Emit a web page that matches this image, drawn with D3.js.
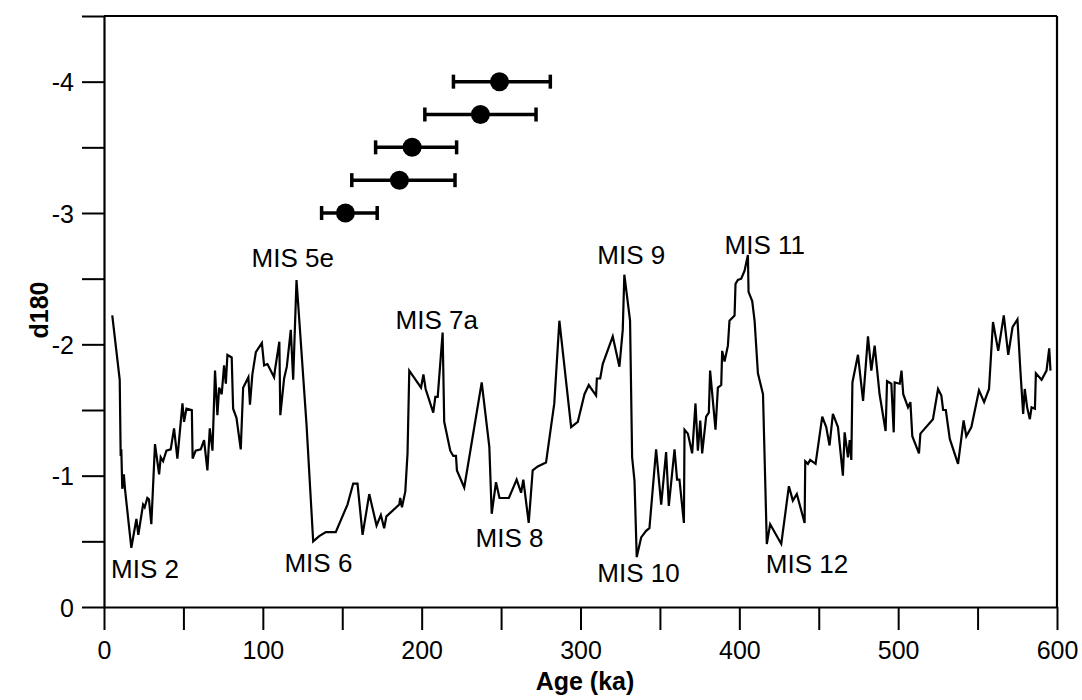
<!DOCTYPE html>
<html><head><meta charset="utf-8">
<script src="https://cdn.jsdelivr.net/npm/d3@7"></script>
<style>body{margin:0;background:#fff}svg{display:block}text{font-family:Arial,"Liberation Sans",sans-serif}</style>
</head><body><svg id="c" width="1082" height="700"></svg>
<script>
const ages = [5.2,9.9,10.5,10.9,11.5,12.5,13.2,17.2,20.4,21.6,24.6,25.6,27.3,28.3,29.8,32.1,34.7,35.7,37.2,39.3,42.0,44.1,46.2,49.4,50.4,51.9,55.3,55.8,57.7,60.9,63.0,65.1,66.6,68.3,69.9,71.4,72.5,74.1,75.6,76.7,77.7,80.4,81.3,83.4,86.1,87.6,90.9,91.9,93.4,95.6,99.4,100.8,102.9,107.1,107.7,110.4,111.0,113.4,115.1,117.6,119.1,121.2,127.5,131.7,135.5,139.7,145.9,153.3,156.9,159.6,162.8,167.0,171.6,174.3,176.4,177.8,185.9,186.5,187.6,189.7,191.1,192.2,199.6,201.1,202.5,207.3,208.6,210.1,213.2,214.2,218.0,219.9,221.6,222.2,226.8,237.8,242.6,244.1,246.8,249.0,254.9,259.8,262.6,264.0,267.4,269.9,273.1,278.3,281.4,283.5,286.7,294.1,298.3,302.5,305.2,309.8,310.3,312.4,314.0,320.3,324.5,326.6,327.6,331.2,332.5,334.0,335.4,338.2,341.3,343.4,347.6,350.8,353.9,355.6,359.2,360.8,362.3,365.1,365.5,367.6,370.3,372.4,373.9,375.4,376.6,379.1,380.8,381.6,385.0,386.5,388.6,389.2,390.7,392.8,393.8,397.0,397.6,399.1,401.2,403.3,405.4,405.8,408.1,409.6,411.7,414.9,417.3,419.4,426.4,431.2,433.7,436.2,441.1,441.5,443.2,444.6,448.0,452.2,454.7,456.8,458.9,462.1,465.2,466.3,468.4,469.5,470.5,471.2,474.7,477.9,481.0,483.1,485.2,488.3,492.1,493.0,495.7,497.2,497.8,501.0,502.1,503.2,506.2,507.7,508.9,513.1,514.0,521.9,525.1,527.2,528.3,530.0,532.5,537.7,541.2,542.9,546.1,550.9,554.1,557.2,559.7,563.0,566.5,569.3,572.0,575.1,577.0,578.7,579.7,581.2,582.9,584.0,586.1,586.7,590.3,593.4,595.1,595.9];
const d18O = [-2.22,-1.73,-1.15,-1.20,-0.90,-1.01,-0.90,-0.45,-0.67,-0.55,-0.78,-0.76,-0.83,-0.82,-0.63,-1.24,-1.01,-1.14,-1.11,-1.19,-1.20,-1.36,-1.13,-1.55,-1.41,-1.51,-1.50,-1.13,-1.19,-1.20,-1.27,-1.04,-1.36,-1.19,-1.80,-1.46,-1.67,-1.62,-1.84,-1.70,-1.92,-1.90,-1.51,-1.44,-1.20,-1.67,-1.75,-1.54,-1.77,-1.94,-2.01,-1.84,-1.85,-1.75,-1.81,-2.02,-1.46,-1.74,-1.83,-2.11,-1.73,-2.49,-1.39,-0.50,-0.54,-0.57,-0.57,-0.78,-0.94,-0.94,-0.55,-0.86,-0.62,-0.70,-0.60,-0.69,-0.78,-0.83,-0.76,-0.88,-1.17,-1.80,-1.67,-1.77,-1.66,-1.48,-1.60,-1.60,-2.09,-1.41,-1.19,-1.15,-1.15,-1.04,-0.91,-1.71,-1.22,-0.71,-0.95,-0.83,-0.83,-0.97,-0.87,-0.97,-0.64,-1.04,-1.07,-1.10,-1.37,-1.55,-2.18,-1.37,-1.41,-1.62,-1.69,-1.61,-1.74,-1.74,-1.85,-2.06,-1.83,-2.11,-2.53,-2.18,-1.14,-0.96,-0.38,-0.53,-0.58,-0.60,-1.20,-0.78,-1.18,-0.77,-1.20,-0.97,-0.97,-0.64,-1.35,-1.32,-1.17,-1.55,-1.19,-1.42,-1.17,-1.45,-1.48,-1.80,-1.35,-1.67,-1.69,-1.95,-1.87,-1.99,-2.18,-2.22,-2.46,-2.49,-2.50,-2.56,-2.68,-2.40,-2.33,-2.18,-1.78,-1.62,-0.48,-0.63,-0.48,-0.92,-0.81,-0.86,-0.64,-1.11,-1.09,-1.12,-1.09,-1.45,-1.37,-1.23,-1.47,-1.37,-1.00,-1.33,-1.14,-1.27,-1.12,-1.71,-1.92,-1.57,-2.06,-1.80,-1.99,-1.62,-1.34,-1.72,-1.70,-1.33,-1.71,-1.70,-1.80,-1.62,-1.52,-1.56,-1.30,-1.17,-1.32,-1.43,-1.66,-1.61,-1.50,-1.50,-1.28,-1.09,-1.42,-1.30,-1.37,-1.65,-1.56,-1.66,-2.17,-1.95,-2.22,-1.92,-2.13,-2.19,-1.79,-1.47,-1.66,-1.52,-1.43,-1.52,-1.51,-1.78,-1.73,-1.80,-1.97,-1.80];

const dateAge = [249, 237, 194, 186, 152];
const dateLow = [220, 202, 171, 156, 137];
const dateHigh = [281, 272, 222, 221, 172];
const dateY = [-4.0, -3.75, -3.5, -3.25, -3.0];

const misLabels = ["MIS 2","MIS 5e","MIS 6","MIS 7a","MIS 8","MIS 9","MIS 10","MIS 11","MIS 12"];
const misAge = [25.8, 118.8, 135, 209.5, 255.3, 332, 336.5, 416, 442.6];
const misY = [-0.22, -2.59, -0.27, -2.12, -0.46, -2.61, -0.19, -2.69, -0.26];

const xTicks = [0,50,100,150,200,250,300,350,400,450,500,550,600];
const xTickLabels = [0,100,200,300,400,500,600];
const yTicks = [0,-0.5,-1,-1.5,-2,-2.5,-3,-3.5,-4,-4.5];
const yTickLabels = [0,-1,-2,-3,-4];

const svg = d3.select("#c");
const L=104, R=1057, T=16, B=607;
const x = d3.scaleLinear().domain([0,600]).range([L,R]);
const y = d3.scaleLinear().domain([0,-4.5]).range([B,T]);

// frame
svg.append("line").attr("x1",L).attr("x2",R).attr("y1",T).attr("y2",T).attr("stroke","#000").attr("stroke-width",2.2);
svg.append("line").attr("x1",R).attr("x2",R).attr("y1",T).attr("y2",B).attr("stroke","#000").attr("stroke-width",2.2);

const xAxis = d3.axisBottom(x).tickValues(xTicks).tickSize(23).tickSizeOuter(0)
  .tickFormat(d => xTickLabels.includes(d) ? String(d) : "");
const gx = svg.append("g").attr("transform",`translate(0,${B})`).call(xAxis);
const yAxis = d3.axisLeft(y).tickValues(yTicks).tickSize(22).tickSizeOuter(0)
  .tickFormat(d => yTickLabels.includes(d) ? String(d) : "");
const gy = svg.append("g").attr("transform",`translate(${L},0)`).call(yAxis);
[gx,gy].forEach(g=>{
  g.select(".domain").attr("stroke","#000").attr("stroke-width",2.2);
  g.selectAll(".tick line").attr("stroke","#000").attr("stroke-width",2);
  g.selectAll(".tick text").attr("fill","#000").style("font-size","25px").style("font-family","Arial, 'Liberation Sans', sans-serif");
});
gx.selectAll(".tick text").attr("dy","1.04em");
gy.selectAll(".tick text").attr("dx","-0.2em").attr("dy","0.36em");

svg.append("text").attr("x",585).attr("y",690).attr("text-anchor","middle")
  .style("font-size","25px").style("font-weight","bold").text("Age (ka)");
svg.append("text").attr("transform","translate(48,310) rotate(-90)").attr("text-anchor","middle")
  .style("font-size","25px").style("font-weight","bold").text("d180");

// line
const pts = ages.map((a,i)=>[a,d18O[i]]);
svg.append("path").datum(pts).attr("fill","none").attr("stroke","#000").attr("stroke-width",2.2)
  .attr("stroke-linejoin","miter").attr("d", d3.line().x(d=>x(d[0])).y(d=>y(d[1])));

// dates with error bars
const eb = svg.append("g");
dateAge.forEach((a,i)=>{
  const yy = y(dateY[i]);
  eb.append("line").attr("x1",x(dateLow[i])).attr("x2",x(dateHigh[i])).attr("y1",yy).attr("y2",yy).attr("stroke","#000").attr("stroke-width",3.5);
  [dateLow[i],dateHigh[i]].forEach(v=>{
    eb.append("line").attr("x1",x(v)).attr("x2",x(v)).attr("y1",yy-7).attr("y2",yy+7).attr("stroke","#000").attr("stroke-width",3.5);
  });
  eb.append("circle").attr("cx",x(a)).attr("cy",yy).attr("r",9.5).attr("fill","#000");
});

// labels
misLabels.forEach((t,i)=>{
  svg.append("text").attr("x",x(misAge[i])).attr("y",y(misY[i])).attr("text-anchor","middle")
    .style("font-size","26px").attr("fill","#000").text(t);
});
</script></body></html>
